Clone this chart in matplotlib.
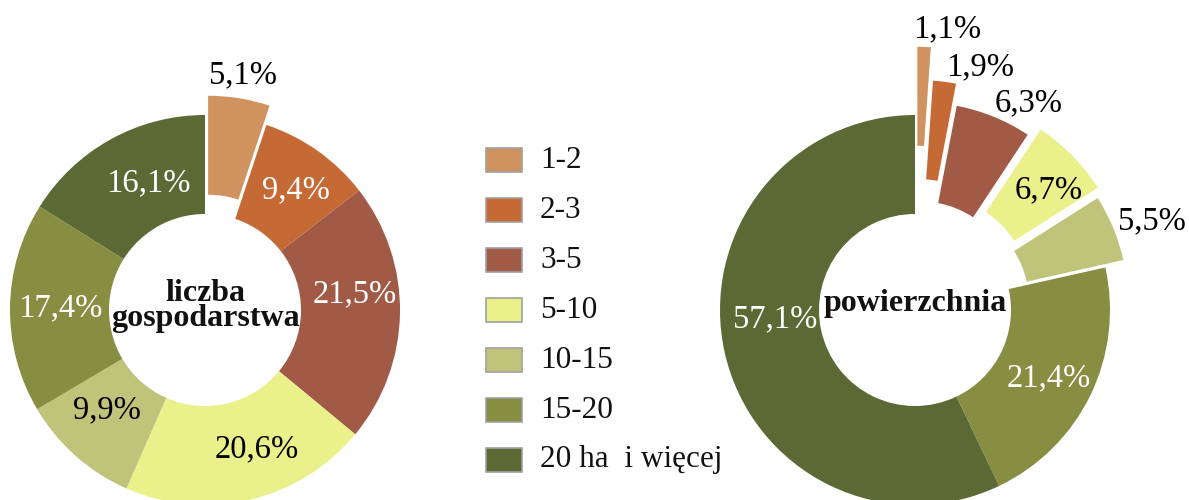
import numpy as np
import matplotlib
matplotlib.use("Agg")
import matplotlib.pyplot as plt
from matplotlib.patches import Rectangle

plt.rcParams["font.family"] = ["Liberation Serif", "DejaVu Serif"]

# --- data ---
categories = ["1-2", "2-3", "3-5", "5-10", "10-15", "15-20", "20 ha  i więcej"]
colors = ["#D09360", "#C66A35", "#A05A45", "#EAF08A", "#BFC47A", "#878E42", "#5B6A34"]

farms_share = [5.1, 9.4, 21.5, 20.6, 9.9, 17.4, 16.1]      # liczba gospodarstw
area_share = [1.1, 1.9, 6.3, 6.7, 5.5, 21.4, 57.1]         # powierzchnia

# --- layout (pixels, figure is 1189x500) ---
R = 195
WIDTH = 99
centers = [(205, 190), (915, 190)]
explode_left = [0.10, 0, 0, 0, 0, 0, 0]
explode_right = [0.35, 0.18, 0.07, 0.13, 0.10, 0, 0]
# label radius (fraction of R) and angle nudge (deg) per slice
lab_left = [(1.12, 0), (0.77, -2), (0.77, 7), (0.76, 7), (0.72, -3), (0.74, 0), (0.71, -5)]
lab_right = [(1.10, -6), (1.11, -9), (1.14, -7), (0.79, -3), (1.20, -2), (0.77, -1), (0.72, -9)]
txtcol_left = ["black", "white", "white", "black", "black", "white", "white"]
txtcol_right = ["black", "black", "black", "black", "black", "white", "white"]

fig = plt.figure(figsize=(11.89, 5), dpi=100)
ax = fig.add_axes([0, 0, 1, 1])


def donut(vals, center, explode, labpos, txtcols, title, title_dy=0):
    ex = [e * R for e in explode]
    ax.pie(vals, center=center, radius=R, explode=ex, colors=colors,
           startangle=90, counterclock=False,
           wedgeprops=dict(width=WIDTH, linewidth=0))
    frac = np.array(vals) / sum(vals)
    ends = 90 - 360 * np.cumsum(frac)
    starts = ends + 360 * frac
    for v, a0, a1, e, (rf, nudge), c in zip(vals, starts, ends, ex, labpos, txtcols):
        mid = np.deg2rad((a0 + a1) / 2)
        ang = np.deg2rad((a0 + a1) / 2 + nudge)
        x = center[0] + e * np.cos(mid) + rf * R * np.cos(ang)
        y = center[1] + e * np.sin(mid) + rf * R * np.sin(ang)
        ax.text(x, y, f"{v:.1f}".replace(".", ",") + "%", ha="center", va="center",
                fontsize=23.5, color=c)
    ax.text(center[0], center[1] + title_dy, title, ha="center", va="center",
            fontsize=23, fontweight="bold", linespacing=0.82, color="#111111")


donut(farms_share, centers[0], explode_left, lab_left, txtcol_left, "liczba\ngospodarstwa", 4)
donut(area_share, centers[1], explode_right, lab_right, txtcol_right, "powierzchnia", 6)

# legend
for i, (lab, c) in enumerate(zip(categories, colors)):
    yc = 500 - (160 + 50 * i)
    ax.add_patch(Rectangle((486, yc - 12), 36, 24, facecolor=c, edgecolor="#A0A0A0", linewidth=1.2))
    ax.text(540, yc, lab, ha="left", va="center", fontsize=22.5, color="#111111")

ax.set_xlim(0, 1189)
ax.set_ylim(0, 500)
ax.set_aspect("equal")
ax.axis("off")

fig.savefig("out.png", dpi=100)
